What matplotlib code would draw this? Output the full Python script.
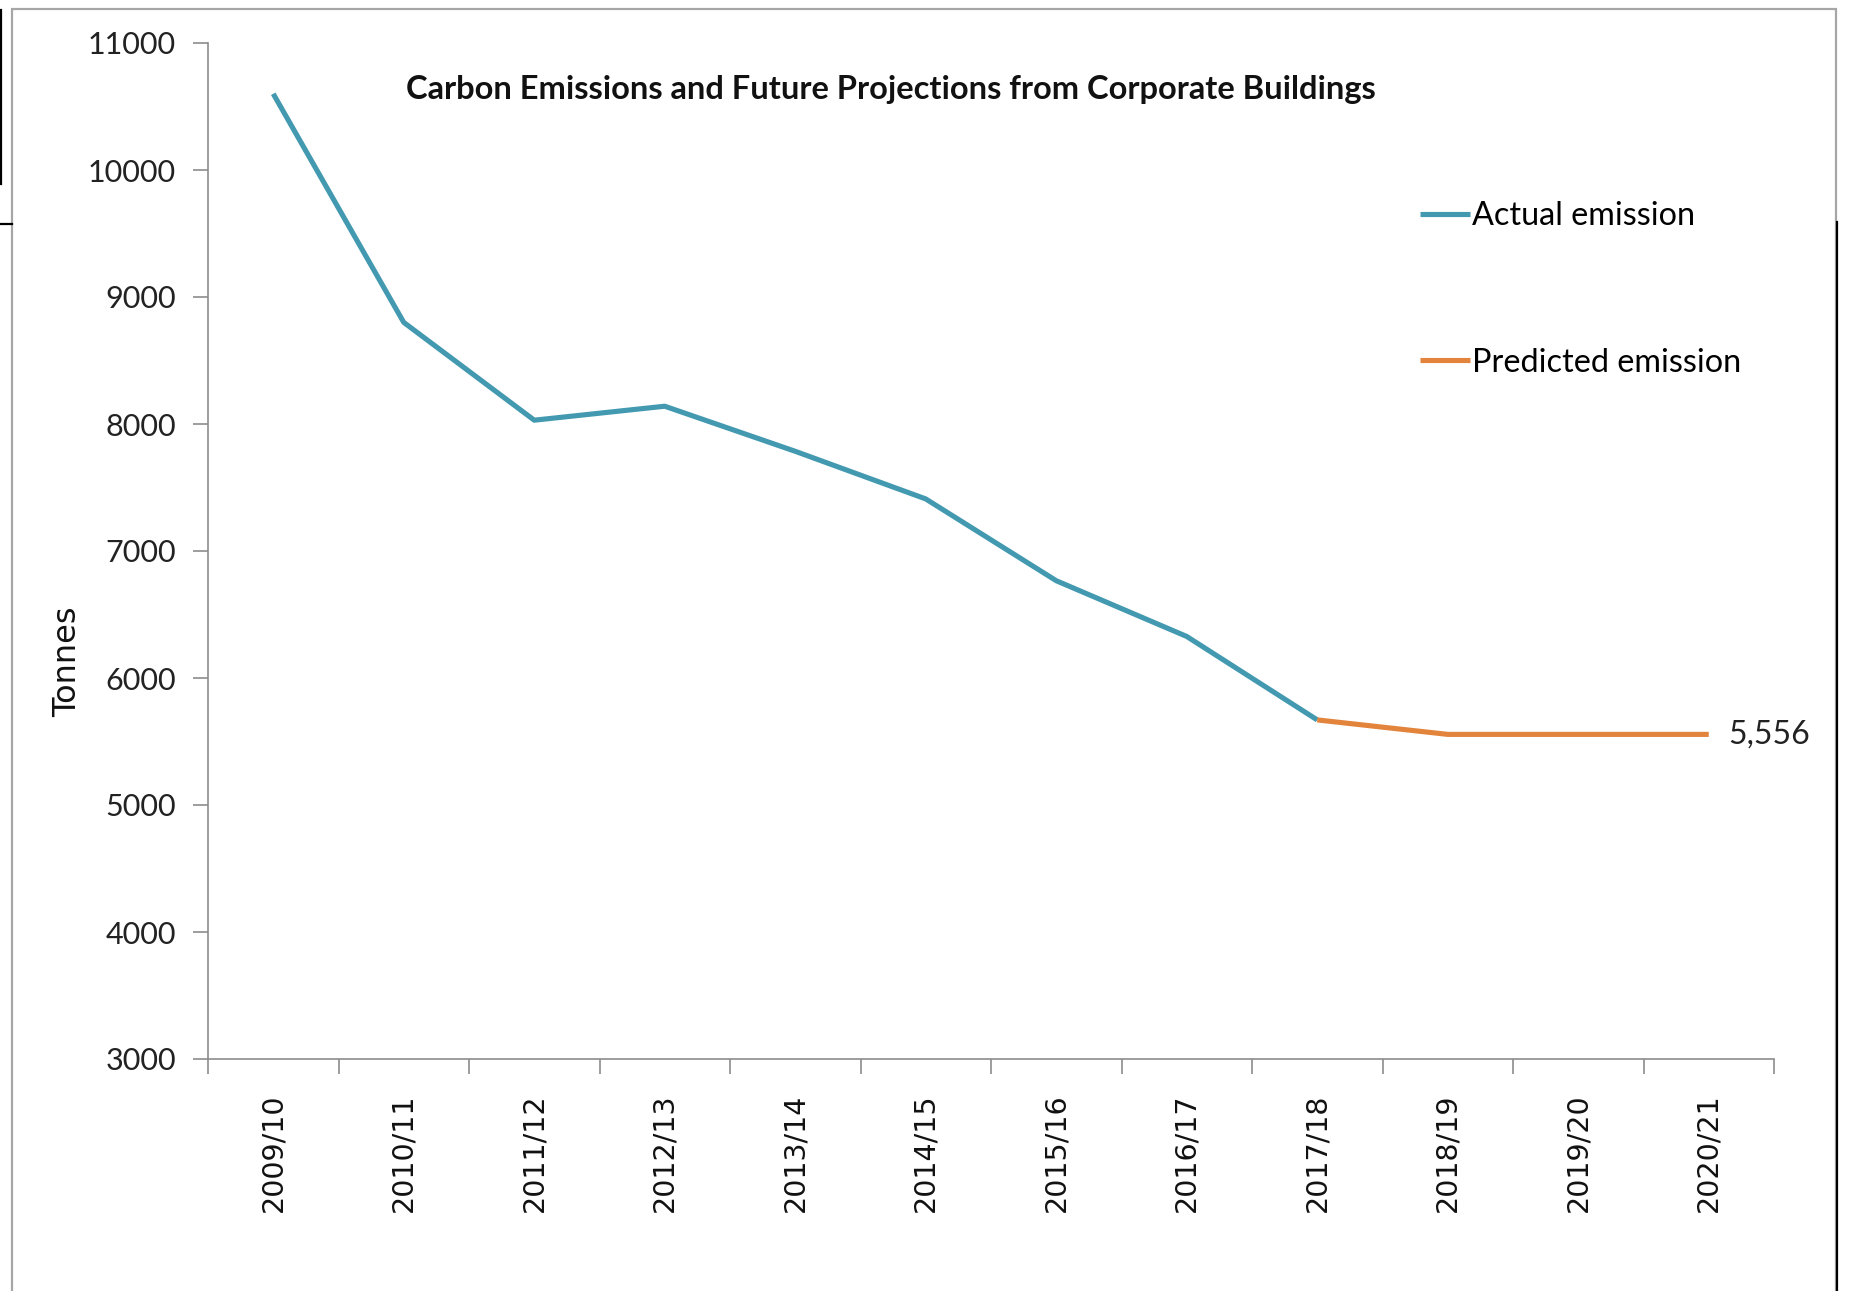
import matplotlib
matplotlib.use("Agg")
import matplotlib.pyplot as plt
from matplotlib.lines import Line2D
from matplotlib.patches import Rectangle

years = ["2009/10", "2010/11", "2011/12", "2012/13", "2013/14", "2014/15",
         "2015/16", "2016/17", "2017/18", "2018/19", "2019/20", "2020/21"]
actual = [10600, 8800, 8030, 8140, 7785, 7410, 6766, 6327, 5670]
predicted_years = ["2017/18", "2018/19", "2019/20", "2020/21"]
predicted = [5670, 5556, 5556, 5556]
yticks = [3000, 4000, 5000, 6000, 7000, 8000, 9000, 10000, 11000]

BLUE = "#4299B0"
ORANGE = "#E3843C"
GREY = "#8C8C8C"

W, H = 1862, 1291
fig = plt.figure(figsize=(W / 100, H / 100), dpi=100)
ax = fig.add_axes([208 / W, 1 - 1059 / H, (1774 - 208) / W, (1059 - 43) / H])

xa = [years.index(y) for y in years[:len(actual)]]
xp = [years.index(y) for y in predicted_years]
ax.plot(xa, actual, color=BLUE, lw=3.7, solid_capstyle="butt", label="Actual emission")
ax.plot(xp, predicted, color=ORANGE, lw=3.7, solid_capstyle="butt", label="Predicted emission")

ax.annotate(f"{predicted[-1]:,}", xy=(xp[-1], predicted[-1]), xytext=(14, 0),
            textcoords="offset points", va="center", ha="left",
            fontsize=23, family="Lato", color="#222222")

ax.set_xlim(-0.5, len(years) - 0.5)
ax.set_ylim(yticks[0], yticks[-1])
ax.set_yticks(yticks)
ax.set_yticklabels([str(v) for v in yticks], family="Lato", fontsize=22, color="#222222")
ax.set_xticks([i - 0.5 for i in range(len(years) + 1)])
ax.set_xticklabels([])
ax.set_xticks(range(len(years)), minor=True)
ax.set_xticklabels(years, minor=True, rotation=90, family="DejaVu Sans", fontsize=20.5,
                   color="#111111", va="top", ha="center")
ax.tick_params(axis="x", which="major", length=11, width=1.2, color=GREY, direction="out")
ax.tick_params(axis="x", which="minor", length=0, pad=25)
ax.tick_params(axis="y", length=11, width=1.2, color=GREY, direction="out", pad=12)

for s in ["top", "right"]:
    ax.spines[s].set_visible(False)
for s in ["left", "bottom"]:
    ax.spines[s].set_color(GREY)
    ax.spines[s].set_linewidth(1.2)

ax.set_ylabel("Tonnes", family="DejaVu Sans", fontsize=23, color="#111111")
ax.yaxis.set_label_coords((83 - 208) / 1566, 0.391)

fig.text(891 / W, 1 - 90 / H, "Carbon Emissions and Future Projections from Corporate Buildings",
         ha="center", va="center", family="Lato", fontweight="bold", fontsize=23.5, color="#111111")

leg = fig.legend(loc="upper left", bbox_to_anchor=(1391 / W, 1 - 172 / H), frameon=False,
                 handlelength=1.55, handletextpad=0.05, labelspacing=3.6,
                 prop={"family": "Lato", "size": 23.3})

# outer frame and spreadsheet cell borders
fig.add_artist(Rectangle((12 / W, -0.01), (1836 - 12) / W, (1291 - 8) / H + 0.01 - 1 / H,
                         transform=fig.transFigure, fill=False, ec="#A6A6A6", lw=1.6))
fig.add_artist(Line2D([1 / W, 1 / W], [1 - 10 / H, 1 - 184 / H], transform=fig.transFigure,
                      color="black", lw=1.6))
fig.add_artist(Line2D([0, 12 / W], [1 - 224 / H, 1 - 224 / H], transform=fig.transFigure,
                      color="black", lw=1.6))
fig.add_artist(Line2D([1837 / W, 1837 / W], [1 - 222 / H, 0], transform=fig.transFigure,
                      color="black", lw=1.6))

fig.savefig("out.png", dpi=100)
